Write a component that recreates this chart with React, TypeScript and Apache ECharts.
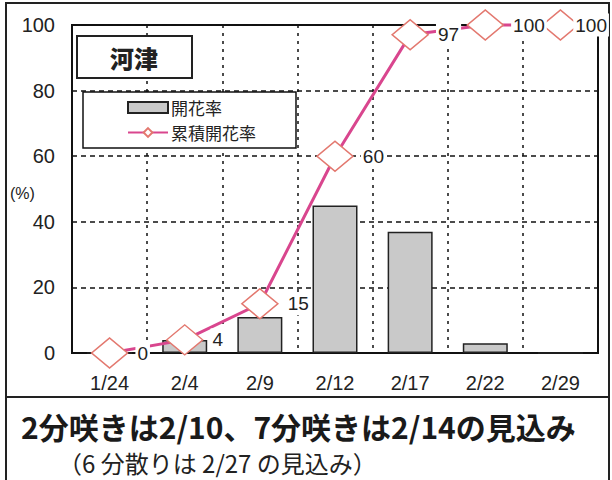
import React, { useEffect, useRef } from "react";
import * as echarts from "echarts";

const categories = ["1/24", "2/4", "2/9", "2/12", "2/17", "2/22", "2/29"];
const bloomRate = [0, 4, 11, 45, 37, 3, 0];
const cumulativeRate = [0, 4, 15, 60, 97, 100, 100];
const yTicks = [0, 20, 40, 60, 80, 100];
const placeName = "河津";
const barName = "開花率";
const lineName = "累積開花率";
const noteMain = "2分咲きは2/10、7分咲きは2/14の見込み";
const noteSub = "（6 分散りは 2/27 の見込み）";

const FONT = "'Liberation Sans', 'Noto Sans CJK JP', sans-serif";
const JP = "'Noto Sans CJK JP', 'Liberation Sans', sans-serif";

export default function App() {
  const ref = useRef<HTMLDivElement>(null);
  useEffect(() => {
    if (!ref.current) return;
    const chart = echarts.init(ref.current, null, { renderer: "svg" });
    const lineData = cumulativeRate.map((v, i) =>
      i === cumulativeRate.length - 1
        ? { value: v, label: { distance: -6 } }
        : { value: v }
    );
    chart.setOption({
      animation: false,
      backgroundColor: "#ffffff",
      grid: {
        left: 72,
        right: 14,
        top: 25,
        bottom: 127,
        show: true,
        borderColor: "#111",
        borderWidth: 2,
        backgroundColor: "transparent",
      },
      legend: {
        show: true,
        orient: "vertical",
        left: 83,
        top: 92,
        width: 222,
        padding: [7, 40, 7, 44],
        itemGap: 8,
        itemWidth: 40,
        itemHeight: 11,
        borderColor: "#111",
        borderWidth: 1.5,
        backgroundColor: "#fff",
        textStyle: { fontFamily: JP, fontSize: 17, color: "#222", padding: [0, 0, 0, -2] },
        data: [
          { name: barName, icon: "rect" },
          { name: lineName },
        ],
      },
      xAxis: {
        type: "category",
        data: categories,
        boundaryGap: true,
        axisLine: { show: true, lineStyle: { color: "#111", width: 2 } },
        axisTick: { show: false },
        axisLabel: {
          fontFamily: FONT,
          fontSize: 20,
          color: "#222",
          margin: 20,
          interval: 0,
        },
        splitLine: {
          show: true,
          interval: 0,
          lineStyle: { color: "#111", type: [3, 5], width: 1.5 },
        },
      },
      yAxis: {
        type: "value",
        min: 0,
        max: 100,
        interval: 20,
        axisLine: { show: true, lineStyle: { color: "#111", width: 2 } },
        axisTick: { show: false },
        axisLabel: {
          fontFamily: FONT,
          fontSize: 20,
          color: "#222",
          margin: 17,
          formatter: (v: number) => (yTicks.includes(v) ? String(v) : ""),
        },
        splitLine: {
          show: true,
          lineStyle: { color: "#111", type: [5, 4], width: 1.5 },
        },
      },
      series: [
        {
          name: barName,
          type: "bar",
          data: bloomRate,
          barWidth: 45,
          itemStyle: { color: "#c9c9c9", borderColor: "#222", borderWidth: 1.5 },
          z: 2,
        },
        {
          name: lineName,
          type: "line",
          data: lineData,
          clip: false,
          symbol: "diamond",
          symbolSize: [36, 30],
          showAllSymbol: true,
          lineStyle: { color: "#d9468e", width: 3 },
          itemStyle: { color: "#ffffff", borderColor: "#e3786f", borderWidth: 1.5 },
          label: {
            show: true,
            position: "right",
            distance: 7,
            fontFamily: FONT,
            fontSize: 19,
            color: "#222",
            backgroundColor: "#fff",
            padding: [2, 2],
          },
          z: 5,
        },
      ],
      graphic: [
        {
          type: "rect",
          shape: { x: 6, y: 3, width: 603, height: 490 },
          style: { fill: "none", stroke: "#222", lineWidth: 2 },
          silent: true,
          z: 0,
        },
        {
          type: "line",
          shape: { x1: 6, y1: 397, x2: 610, y2: 397 },
          style: { stroke: "#222", lineWidth: 2 },
          silent: true,
        },
        {
          type: "rect",
          shape: { x: 77, y: 36, width: 115, height: 42 },
          style: { fill: "#fff", stroke: "#222", lineWidth: 2 },
          z: 10,
        },
        {
          type: "text",
          x: 134,
          y: 57,
          style: {
            text: placeName,
            fontFamily: JP,
            fontWeight: 900,
            fontSize: 24,
            fill: "#222",
            align: "center",
            verticalAlign: "middle",
          },
          z: 11,
        },
        {
          type: "text",
          x: 10,
          y: 193,
          style: {
            text: "(%)",
            fontFamily: FONT,
            fontSize: 16,
            fill: "#222",
            verticalAlign: "middle",
          },
        },
        {
          type: "text",
          x: 21,
          y: 426,
          style: {
            text: noteMain,
            fontFamily: JP,
            fontWeight: "bold",
            fontSize: 30,
            fill: "#1a1a1a",
            verticalAlign: "middle",
          },
        },
        {
          type: "text",
          x: 58,
          y: 462,
          style: {
            text: noteSub,
            fontFamily: JP,
            fontSize: 24,
            fill: "#222",
            verticalAlign: "middle",
          },
        },
      ],
    });
    return () => chart.dispose();
  }, []);
  return <div ref={ref} style={{ width: 612, height: 480, position: "absolute", left: 0, top: 0 }} />;
}
